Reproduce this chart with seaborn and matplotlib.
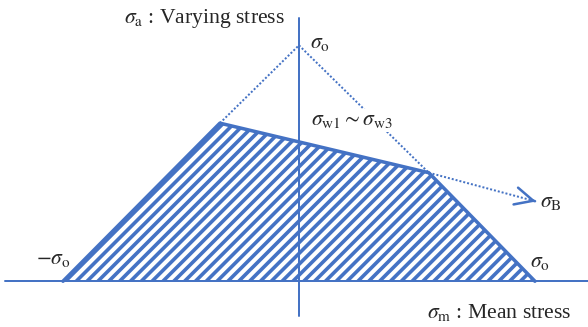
import seaborn as sns
import matplotlib.pyplot as plt

# Fatigue limit diagram (mean stress vs varying stress), values in units of sigma_o
envelope_x = [-1.0, -0.335, 0.55, 1.0]
envelope_y = [0.0, 0.67, 0.46, 0.0]

# dotted construction lines
left_guide_x = [-0.335, 0.0]
left_guide_y = [0.67, 1.0]
right_guide_x = [0.0, 0.55]
right_guide_y = [1.0, 0.46]
goodman_x = [0.55, 1.005]
goodman_y = [0.46, 0.338]

axis_label_a = r'$\sigma_{\mathrm{a}}$ : Varying stress'
axis_label_m = r'$\sigma_{\mathrm{m}}$ : Mean stress'
sigma_o = r'$\sigma_{\mathrm{o}}$'
neg_sigma_o = r'$-\sigma_{\mathrm{o}}$'
sigma_w = r'$\sigma_{\mathrm{w1}} \sim \sigma_{\mathrm{w3}}$'
sigma_b = r'$\sigma_{\mathrm{B}}$'

blue = '#4472C4'
dpi = 130

sns.set_theme(style='white')
plt.rcParams['font.family'] = ['Liberation Serif', 'DejaVu Serif']
plt.rcParams['mathtext.fontset'] = 'stix'
plt.rcParams['hatch.linewidth'] = 2.0
plt.rcParams['hatch.color'] = blue

fig = plt.figure(figsize=(588 / dpi, 327 / dpi), dpi=dpi)
ax = fig.add_axes([0, 0, 1, 1])
ax.set_xlim(-1.267, 1.225)
ax.set_ylim(-0.194, 1.192)
ax.axis('off')

# coordinate axes
ax.plot([-1.246, 1.225], [0, 0], color=blue, lw=1.1, zorder=3)
ax.plot([0, 0], [-0.147, 1.116], color=blue, lw=1.1, zorder=3)

# hatched safe region
ax.fill(envelope_x, envelope_y, facecolor='none', edgecolor=blue,
        hatch='////', linewidth=0, zorder=1)
sns.lineplot(x=envelope_x, y=envelope_y, sort=False, estimator=None,
             color=blue, lw=1.95, ax=ax, zorder=4)

for gx, gy in [(left_guide_x, left_guide_y), (right_guide_x, right_guide_y),
               (goodman_x, goodman_y)]:
    sns.lineplot(x=gx, y=gy, sort=False, estimator=None, color=blue,
                 lw=1.1, linestyle=(0, (1, 1)), ax=ax, zorder=2)

# open arrow head at sigma_B
tip = (goodman_x[-1], goodman_y[-1])
back = (tip[0] - 0.01 * (goodman_x[-1] - goodman_x[0]),
        tip[1] - 0.01 * (goodman_y[-1] - goodman_y[0]))
ax.annotate('', xy=tip, xytext=back,
            arrowprops=dict(arrowstyle='->,head_length=0.5,head_width=0.24',
                            mutation_scale=20, color=blue, lw=1.4,
                            shrinkA=0, shrinkB=0))

fs = 12.0
ax.text(-0.059, 1.093, axis_label_a, fontsize=fs, ha='right', va='baseline')
ax.text(1.153, -0.154, axis_label_m, fontsize=fs, ha='right', va='baseline')
ax.text(0.045, 0.99, sigma_o, fontsize=fs, ha='left', va='baseline')
ax.text(-1.115, 0.074, neg_sigma_o, fontsize=fs, ha='left', va='baseline')
ax.text(0.98, 0.061, sigma_o, fontsize=fs, ha='left', va='baseline')
ax.text(1.021, 0.315, sigma_b, fontsize=fs, ha='left', va='baseline')
ax.text(0.05, 0.662, sigma_w, fontsize=fs, ha='left', va='baseline', zorder=5,
        bbox=dict(facecolor='white', edgecolor='none', pad=1))

fig.savefig('out.png', dpi=dpi)
